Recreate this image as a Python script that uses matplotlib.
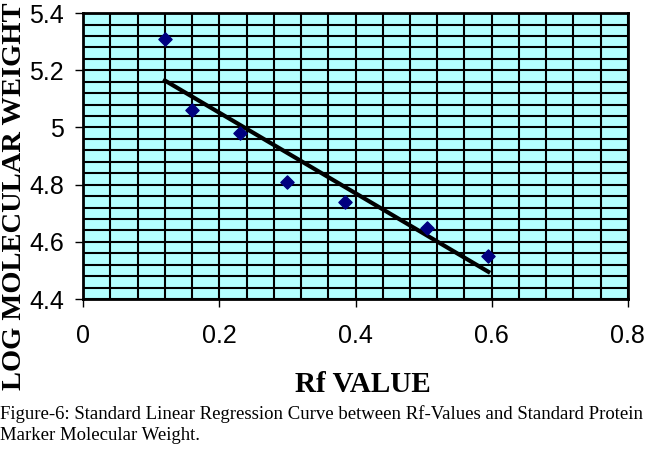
import numpy as np
import matplotlib.pyplot as plt
from matplotlib.ticker import MultipleLocator

# Rf values and log molecular weight of the marker proteins
rf = [0.12, 0.16, 0.23, 0.30, 0.385, 0.505, 0.595]
log_mw = [5.31, 5.06, 4.98, 4.81, 4.74, 4.65, 4.55]

x_ticks = [0, 0.2, 0.4, 0.6, 0.8]
x_tick_labels = ['0', '0.2', '0.4', '0.6', '0.8']
y_ticks = [4.4, 4.6, 4.8, 5.0, 5.2, 5.4]
y_tick_labels = ['4.4', '4.6', '4.8', '5', '5.2', '5.4']

caption = ("Figure-6: Standard Linear Regression Curve between Rf-Values and Standard Protein\n"
           "Marker Molecular Weight.")

fig = plt.figure(figsize=(6.5, 4.51), dpi=100)
ax = fig.add_axes([0.128, 0.337, 0.838, 0.634])
ax.set_facecolor('#b4ffff')

# regression line through the points
slope, intercept = np.polyfit(rf, log_mw, 1)
xs = np.array([min(rf), max(rf)])
ax.plot(xs, slope * xs + intercept, c='k', lw=3, zorder=3)
ax.scatter(rf, log_mw, marker='D', s=45, c='#000080', zorder=4)

ax.set_xlim(0, 0.8)
ax.set_ylim(4.4, 5.4)
ax.set_xticks(x_ticks)
ax.set_xticklabels(x_tick_labels)
ax.set_yticks(y_ticks)
ax.set_yticklabels(y_tick_labels)
ax.xaxis.set_minor_locator(MultipleLocator(0.04))
ax.yaxis.set_minor_locator(MultipleLocator(0.04))
ax.grid(which='both', color='k', lw=1.5)
ax.set_axisbelow(True)
ax.tick_params(which='major', direction='out', length=6, width=1, labelsize=18)
ax.tick_params(axis='x', pad=12)
ax.tick_params(axis='y', pad=8)
ax.tick_params(which='minor', length=0)
for lab in ax.get_xticklabels() + ax.get_yticklabels():
    lab.set_family('Liberation Sans')
for s in ax.spines.values():
    s.set_linewidth(2)

fig.text(0.022, 0.995, 'LOG MOLECULAR WEIGHT', rotation=90, ha='center', va='top',
         family='Liberation Serif', weight='bold', fontsize=20.5)
fig.text(0.558, 0.147, 'Rf VALUE', ha='center', va='center',
         family='Liberation Serif', weight='bold', fontsize=21)
fig.text(0.0, 0.058, caption, ha='left', va='center', family='Liberation Serif',
         fontsize=13.5, linespacing=1.3)

fig.savefig('out.png', dpi=100)
